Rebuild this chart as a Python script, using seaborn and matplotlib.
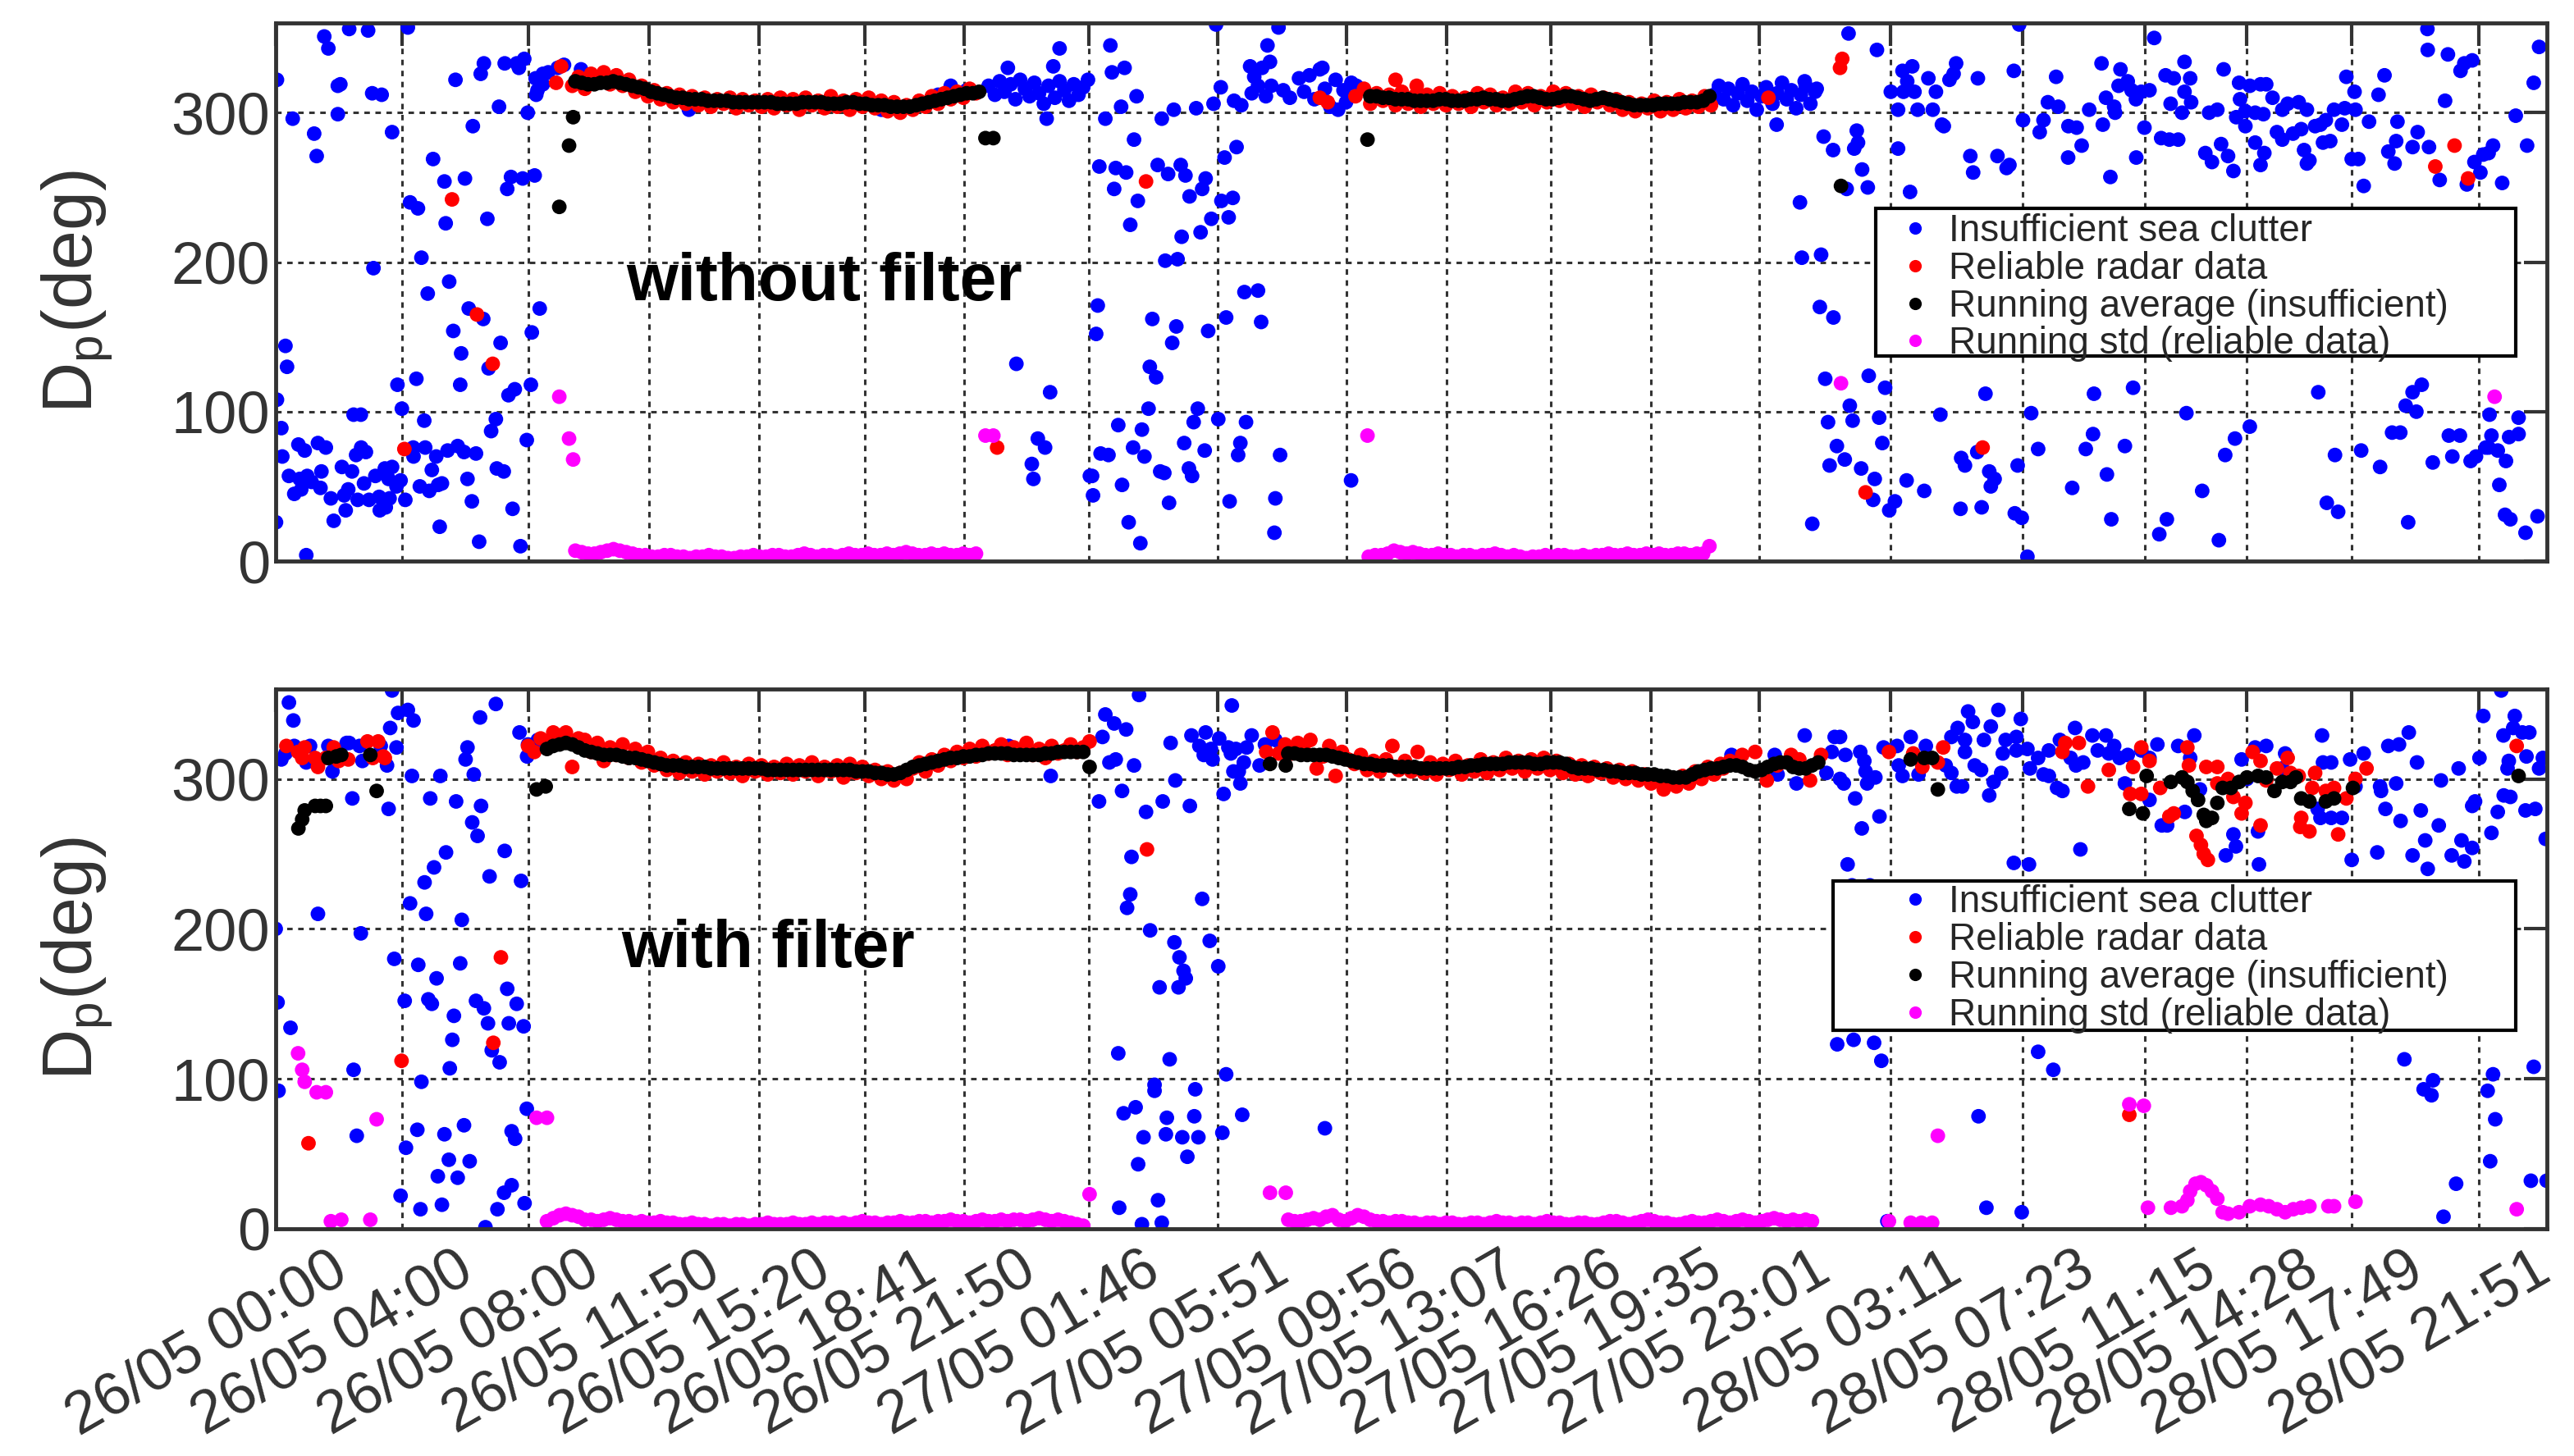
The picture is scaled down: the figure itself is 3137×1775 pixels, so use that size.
import numpy as np
import pandas as pd
import matplotlib
matplotlib.use("Agg")
import matplotlib.pyplot as plt
import matplotlib.transforms as mtransforms
from matplotlib.patches import Rectangle
import seaborn as sns

# x axis: hours since 26/05 00:00, tick labels as printed on the chart
TICK_LABELS = ["26/05 00:00", "26/05 04:00", "26/05 08:00", "26/05 11:50", "26/05 15:20",
               "26/05 18:41", "26/05 21:50", "27/05 01:46", "27/05 05:51", "27/05 09:56",
               "27/05 13:07", "27/05 16:26", "27/05 19:35", "27/05 23:01", "28/05 03:11",
               "28/05 07:23", "28/05 11:15", "28/05 14:28", "28/05 17:49", "28/05 21:51"]
SERIES = ["Insufficient sea clutter", "Reliable radar data",
          "Running average (insufficient)", "Running std (reliable data)"]
COLORS = ["#0000ff", "#ff0000", "#000000", "#ff00ff"]

# ---------------- top panel (without filter) ----------------
TOP_BLUE = [(0.04, 322), (1.54, 351), (1.67, 343), (2.33, 356), (2.93, 355), (4.19, 357), (1.97, 318),
            (2.05, 319), (3.06, 313), (3.36, 312), (0.54, 296), (1.97, 299), (1.22, 286), (1.30, 271),
            (3.69, 287), (5.7, 322), (6.5, 326), (6.6, 333), (7.26, 333), (7.64, 333), (7.71, 330),
            (7.88, 336), (7.08, 304), (6.25, 291), (7.99, 300), (4.99, 269), (5.35, 254), (6.0, 256),
            (4.26, 240), (4.51, 236), (5.39, 226), (6.71, 229), (7.34, 249), (7.46, 257), (7.83, 256),
            (8.21, 258), (4.62, 203), (3.1, 196), (5.5, 187), (4.82, 179), (6.12, 169), (6.58, 162),
            (8.37, 169), (5.63, 154), (8.12, 153), (7.13, 146), (5.88, 139), (0.31, 144), (0.36, 130),
            (6.75, 129), (4.46, 122), (3.86, 118), (5.85, 118), (8.09, 118), (7.38, 111), (7.58, 115),
            (0.04, 108), (2.47, 98), (2.7, 98), (4.0, 102), (4.71, 94), (6.98, 95), (6.83, 87),
            (7.96, 81), (0.18, 89), (0.72, 78), (0.92, 74), (1.34, 79), (1.59, 76), (0.21, 70),
            (2.55, 71), (2.71, 76), (2.86, 73), (2.1, 63), (2.42, 60), (1.45, 60), (0.42, 57),
            (0.76, 55), (1.0, 57), (1.14, 53), (0.59, 45), (0.81, 48), (1.42, 49), (2.3, 48),
            (2.17, 44), (2.8, 52), (3.16, 57), (3.46, 62), (3.69, 63), (3.58, 55), (3.96, 54),
            (3.83, 50), (1.75, 42), (2.6, 41), (2.96, 41), (3.28, 43), (3.61, 42), (1.84, 27),
            (2.22, 34), (3.3, 34), (3.49, 36), (4.11, 41), (4.36, 76), (4.74, 76), (4.37, 70),
            (4.95, 61), (5.09, 70), (4.57, 50), (4.87, 47), (5.15, 51), (5.27, 52), (5.45, 74),
            (5.77, 77), (5.97, 73), (6.35, 72), (6.08, 55), (6.22, 40), (7.01, 62), (7.23, 60),
            (7.51, 35), (5.2, 23), (6.45, 13), (7.76, 10), (0.97, 4), (0.01, 26),
            (8.24, 323), (8.47, 326), (8.64, 327), (8.94, 330), (9.14, 332), (9.68, 329), (8.3, 315),
            (8.47, 319), (8.26, 312), (13.1, 302), (19.2, 302), (21.0, 312), (21.4, 318), (21.9, 315),
            (22.6, 318), (22.8, 312), (22.95, 321), (23.1, 314), (23.3, 319), (23.45, 309), (23.6, 322),
            (23.75, 316), (23.9, 311), (24.05, 320), (24.2, 313), (24.35, 306), (24.5, 318), (24.7, 310),
            (24.85, 321), (25.0, 315), (25.15, 308), (25.3, 319), (25.45, 312), (25.6, 317), (25.75, 322),
            (23.21, 330), (24.85, 343), (24.65, 331), (24.44, 296), (26.46, 345), (26.51, 327),
            (26.91, 330), (27.29, 311), (26.3, 296), (26.8, 304), (28.09, 296), (28.47, 302),
            (29.18, 303), (29.73, 306), (29.96, 317), (29.81, 359), (31.79, 357), (31.44, 345),
            (30.89, 331), (31.02, 324), (31.27, 330), (31.52, 334), (30.94, 313), (31.14, 318),
            (31.39, 311), (31.56, 318), (30.38, 308), (30.61, 305), (31.94, 315), (32.15, 310),
            (32.44, 323), (32.77, 325), (33.1, 329), (33.18, 330), (32.6, 314), (32.93, 309),
            (33.26, 316), (33.6, 322), (33.85, 315), (34.1, 320), (34.26, 318), (33.43, 304),
            (33.68, 302), (33.93, 307), (27.21, 282), (26.11, 264), (26.63, 263), (26.96, 260),
            (26.58, 249), (27.96, 265), (28.29, 259), (28.69, 265), (28.84, 258), (29.48, 256),
            (29.37, 249), (28.97, 244), (27.33, 241), (27.09, 225), (28.72, 217), (29.32, 220),
            (28.2, 201), (28.59, 202), (29.66, 229), (30.21, 230), (29.98, 241), (30.34, 243),
            (30.08, 270), (30.46, 277), (30.71, 180), (31.14, 181), (26.06, 171), (26.01, 152),
            (27.79, 162), (28.55, 157), (28.42, 146), (29.56, 154), (30.13, 163), (31.24, 160),
            (23.48, 132), (24.55, 113), (27.71, 130), (27.91, 123), (27.67, 102), (29.23, 102),
            (26.71, 91), (27.46, 88), (29.1, 93), (29.88, 95), (30.76, 93), (24.16, 82), (24.39, 76),
            (23.97, 65), (24.02, 55), (26.15, 72), (26.4, 71), (27.18, 76), (27.54, 70), (28.8, 79),
            (29.45, 74), (30.58, 79), (30.51, 71), (31.84, 71), (25.88, 57), (25.91, 44), (26.83, 51),
            (28.04, 60), (28.17, 59), (28.95, 62), (29.05, 57), (27.04, 26), (27.41, 12), (28.32, 39),
            (30.24, 40), (31.69, 42), (31.66, 19), (34.09, 54), (25.81, 57),
            (45.6, 312), (45.75, 318), (45.9, 309), (46.05, 316), (46.2, 305), (46.35, 313), (46.5, 319),
            (46.65, 308), (46.8, 314), (46.95, 302), (47.1, 311), (47.25, 317), (47.45, 306), (47.6, 313),
            (47.75, 320), (47.9, 309), (48.05, 315), (48.2, 303), (48.35, 312), (48.5, 318), (48.65, 306),
            (48.8, 314), (55.27, 359), (49.86, 353), (50.76, 342), (48.47, 321), (48.85, 316),
            (47.58, 292), (49.07, 284), (49.37, 275), (50.12, 288), (50.16, 280), (50.04, 276),
            (50.29, 262), (50.47, 250), (49.8, 249), (48.32, 240), (48.38, 203), (48.99, 205),
            (48.95, 170), (49.38, 163), (49.12, 122), (50.5, 124), (51.02, 116), (49.9, 104),
            (49.21, 93), (49.99, 94), (49.49, 77), (49.74, 68), (49.26, 64), (50.26, 62), (50.69, 55),
            (50.64, 41), (50.93, 79), (50.83, 96), (51.15, 34), (51.33, 40), (51.7, 54), (52.26, 47),
            (48.71, 25), (51.57, 328), (51.88, 331), (51.72, 321), (51.95, 314), (51.6, 314),
            (52.05, 302), (51.43, 302), (51.2, 314), (52.39, 323), (52.63, 314), (52.53, 302),
            (52.82, 292), (52.88, 291), (53.06, 322), (53.19, 326), (53.27, 333), (51.43, 276),
            (51.81, 247), (52.77, 98), (53.43, 69), (53.55, 64), (53.41, 35), (54.08, 36), (53.72, 271),
            (53.81, 260), (54.58, 271), (54.87, 263), (54.96, 265), (53.96, 323), (54.2, 112),
            (54.32, 60), (54.37, 50), (54.49, 55), (53.94, 73), (55.1, 328), (55.39, 295), (55.22, 64),
            (55.13, 32), (55.35, 29), (55.53, 3), (55.65, 99), (55.87, 75), (56.18, 307), (56.04, 295),
            (55.92, 287), (56.51, 304), (56.44, 324), (56.83, 291), (57.09, 290), (56.82, 270),
            (57.25, 278), (56.95, 49), (57.49, 302), (57.61, 85), (57.38, 75), (58.05, 58), (57.64, 112),
            (57.88, 333), (57.92, 292), (58.02, 310), (58.28, 304), (58.31, 300), (58.19, 28),
            (58.16, 257), (58.48, 329), (58.42, 318), (58.71, 321), (58.83, 315), (58.97, 309),
            (59.14, 314), (59.4, 315), (58.62, 77), (58.88, 116), (58.98, 270), (59.24, 290),
            (59.55, 350), (59.71, 18), (59.95, 28), (59.77, 283), (60.03, 282), (60.31, 282),
            (59.91, 325), (60.17, 323), (60.51, 334), (60.69, 323), (60.07, 306), (60.51, 314),
            (60.72, 307), (60.43, 300), (60.57, 99), (61.07, 47), (61.17, 273), (61.38, 267),
            (61.67, 279), (61.89, 271), (61.29, 300), (61.55, 302), (61.6, 14), (61.75, 329),
            (62.06, 261), (61.8, 71), (62.11, 82), (62.58, 90), (62.24, 320), (62.27, 309),
            (62.58, 318), (62.92, 319), (63.1, 319), (62.15, 297), (62.44, 301), (62.75, 300),
            (63.01, 299), (62.44, 291), (62.75, 280), (62.92, 265), (63.04, 273), (63.3, 310),
            (63.61, 302), (63.78, 306), (64.13, 307), (64.39, 302), (63.44, 287), (63.61, 282),
            (63.95, 286), (64.21, 289), (64.3, 275), (64.47, 268), (64.65, 291), (64.82, 292),
            (64.99, 295), (64.39, 266), (64.75, 113), (64.9, 280), (65.13, 281), (65.25, 302),
            (65.02, 39), (65.38, 33), (65.28, 71), (65.5, 292), (65.59, 303), (65.64, 324),
            (65.81, 269), (66.02, 269), (65.9, 314), (65.93, 302), (66.11, 74), (66.19, 251),
            (66.36, 294), (66.66, 312), (66.71, 63), (66.85, 325), (66.97, 274), (67.17, 266),
            (67.09, 86), (67.35, 86), (67.22, 281), (67.26, 294), (67.52, 104), (67.86, 100),
            (67.74, 113), (68.03, 118), (67.6, 26), (67.74, 277), (68.26, 277), (67.9, 287),
            (68.21, 356), (68.22, 342), (68.38, 66), (68.89, 84), (69.24, 84), (69.0, 70), (69.58, 67),
            (69.75, 70), (68.6, 255), (68.77, 308), (68.86, 339), (69.26, 328), (69.38, 333),
            (69.63, 335), (69.46, 252), (69.7, 267), (69.89, 260), (69.98, 272), (70.15, 273),
            (70.29, 278), (70.18, 98), (70.24, 84), (70.15, 76), (70.06, 76), (70.44, 74), (70.7, 67),
            (70.49, 51), (70.8, 83), (71.1, 85), (71.1, 96), (70.58, 253), (70.67, 31), (70.84, 28),
            (71.32, 19), (71.7, 30), (71.01, 298), (71.37, 278), (71.58, 320), (71.75, 344)]
TOP_RED = [(5.59, 242), (6.38, 165), (6.88, 132), (4.08, 75), (22.87, 76), (9.05, 331), (8.89, 320),
           (27.59, 254), (33.1, 310), (33.35, 307), (34.23, 311), (35.5, 322), (36.17, 318), (47.32, 310),
           (49.66, 336), (49.59, 330), (50.4, 46), (54.11, 76), (68.46, 264), (69.07, 278), (69.5, 256)]
TOP_BLACK = [(9.43, 297), (9.3, 278), (8.99, 237), (22.5, 283), (22.75, 283), (34.61, 282), (49.62, 251)]
TOP_MAGENTA = [(8.99, 110), (9.3, 82), (9.43, 68), (22.5, 84), (22.75, 84), (34.61, 84), (49.62, 119),
               (70.34, 110)]

# dense running series: (first hour, last hour) and evenly spaced samples between
TOP_RED_A_SPAN = (9.4, 22.2)
TOP_RED_A = [318, 324, 316, 326, 321, 327, 319, 325, 318, 322, 314, 318, 311, 315, 309, 313, 307, 312,
             306, 311, 305, 310, 304, 309, 306, 310, 303, 309, 305, 308, 304, 309, 303, 310, 305, 309,
             302, 310, 305, 308, 303, 311, 304, 308, 302, 309, 304, 310, 303, 308, 301, 307, 300, 305,
             302, 308, 304, 311, 306, 313, 309, 314, 310, 316, 313]
TOP_BLACK_A_SPAN = (9.5, 22.3)
TOP_BLACK_A = [321, 320, 319, 319, 320, 320, 321, 320, 319, 318, 317, 316, 314, 313, 312, 311, 310, 310,
               309, 309, 309, 308, 308, 308, 308, 307, 307, 307, 307, 307, 307, 307, 306, 306, 306, 306,
               307, 307, 307, 307, 306, 306, 306, 307, 307, 306, 306, 305, 305, 305, 304, 304, 304, 304,
               305, 306, 307, 308, 309, 310, 311, 312, 313, 313, 314]
TOP_MAG_A_SPAN = (9.5, 22.2)
TOP_MAG_A = [7, 6, 5, 5, 6, 7, 8, 7, 6, 5, 4, 4, 3, 3, 4, 4, 3, 3, 2, 3, 3, 4, 3, 3, 2, 2, 3, 3, 4, 3,
             3, 4, 4, 3, 3, 4, 5, 4, 3, 4, 4, 3, 4, 5, 4, 4, 5, 4, 4, 5, 4, 5, 6, 5, 4, 4, 5, 4, 5, 4,
             4, 5, 4, 5]
TOP_RED_B_SPAN = (34.5, 45.5)
TOP_RED_B = [316, 306, 313, 308, 312, 305, 314, 306, 311, 304, 312, 306, 313, 305, 311, 306, 310, 304,
             313, 307, 312, 305, 310, 306, 314, 307, 313, 305, 311, 307, 314, 308, 313, 306, 311, 304,
             312, 307, 310, 305, 309, 302, 307, 301, 306, 303, 308, 301, 307, 302, 309, 303, 308, 304,
             311, 305]
TOP_BLACK_B_SPAN = (34.7, 45.45)
TOP_BLACK_B = [311, 311, 310, 310, 309, 309, 309, 308, 308, 308, 308, 309, 309, 308, 308, 308, 309, 309,
               310, 309, 309, 308, 308, 309, 310, 311, 311, 310, 309, 309, 310, 311, 311, 310, 309, 308,
               309, 310, 309, 308, 307, 306, 305, 305, 305, 305, 306, 306, 306, 306, 307, 307, 307, 308, 311]
TOP_MAG_B_SPAN = (34.65, 45.45)
TOP_MAG_B = [3, 4, 4, 5, 7, 6, 5, 6, 5, 4, 4, 5, 4, 4, 3, 4, 4, 3, 4, 4, 5, 4, 3, 4, 3, 2, 3, 3, 4, 3,
             4, 4, 3, 3, 4, 3, 4, 4, 5, 4, 4, 5, 4, 4, 5, 4, 5, 4, 4, 5, 5, 4, 5, 5, 10]

# ---------------- bottom panel (with filter) ----------------
BOT_BLUE = [(0.42, 351), (0.56, 339), (0.18, 313), (0.31, 317), (0.59, 322), (1.09, 322), (0.97, 311),
            (1.67, 322), (1.8, 305), (2.25, 324), (2.33, 324), (2.66, 322), (2.75, 312), (3.69, 359),
            (3.88, 344), (3.63, 334), (3.83, 321), (3.53, 309), (3.33, 322), (4.19, 346), (4.37, 339),
            (4.32, 302), (5.22, 302), (6.48, 341), (6.98, 350), (6.08, 321), (6.02, 313), (6.28, 303),
            (7.73, 331), (8.0, 323), (7.97, 315), (8.31, 326), (2.43, 287), (3.58, 280), (4.9, 287),
            (5.72, 285), (6.51, 282), (6.23, 271), (6.4, 262), (7.26, 252), (5.4, 251), (5.02, 241),
            (4.72, 231), (6.78, 235), (7.78, 232), (4.26, 217), (4.77, 210), (5.9, 206), (1.34, 210),
            (0.0, 200), (2.7, 197), (3.76, 180), (4.52, 176), (5.85, 177), (5.1, 167), (7.34, 160),
            (4.95, 150), (4.84, 153), (4.09, 152), (6.35, 152), (6.6, 147), (7.64, 150), (0.06, 151),
            (5.65, 142), (6.73, 137), (7.39, 137), (7.86, 135), (0.47, 134), (5.6, 126), (6.85, 119),
            (7.1, 111), (2.47, 106), (5.52, 107), (4.62, 98), (0.09, 92), (7.96, 80), (2.57, 62),
            (4.49, 66), (5.35, 63), (5.97, 69), (7.48, 65), (7.59, 60), (4.13, 54), (5.49, 46),
            (6.15, 45), (5.14, 35), (5.77, 34), (7.48, 29), (7.24, 24), (3.96, 22), (4.59, 13),
            (5.27, 16), (7.03, 13), (7.89, 17), (6.65, 1), (24.57, 302), (24.33, 318), (23.24, 322),
            (27.37, 356), (26.3, 343), (26.58, 337), (26.96, 333), (26.21, 328), (26.43, 311),
            (26.63, 313), (27.21, 309), (26.1, 285), (26.83, 292), (27.59, 278), (28.12, 285),
            (28.52, 299), (28.98, 282), (28.37, 324), (29.03, 329), (29.48, 331), (29.28, 322),
            (29.42, 316), (29.65, 320), (29.7, 313), (29.91, 327), (30.31, 349), (30.05, 290),
            (30.2, 321), (30.44, 320), (30.28, 317), (30.94, 329), (30.78, 321), (30.69, 311),
            (30.36, 305), (30.58, 297), (30.53, 305), (31.19, 309), (31.36, 323), (31.69, 326),
            (27.13, 248), (27.09, 223), (26.99, 214), (29.37, 220), (27.72, 199), (28.49, 191),
            (28.65, 181), (28.78, 172), (28.85, 167), (28.02, 161), (28.62, 161), (29.61, 192),
            (29.88, 175), (26.71, 117), (28.34, 113), (30.13, 103), (27.86, 96), (27.86, 92),
            (29.15, 93), (26.88, 77), (27.26, 81), (28.25, 74), (29.12, 75), (30.64, 76), (27.51, 61),
            (28.22, 63), (28.74, 61), (29.25, 61), (30.01, 64), (33.26, 67), (27.34, 43), (28.9, 48),
            (27.97, 19), (26.74, 14), (27.46, 3), (28.09, 4),
            (46.15, 316), (47.52, 316), (47.61, 303), (48.21, 297), (48.47, 329), (49.42, 328),
            (49.59, 328), (49.33, 318), (49.76, 316), (49.16, 304), (49.59, 300), (49.71, 297),
            (50.23, 318), (50.36, 312), (50.4, 305), (50.45, 297), (50.71, 301), (50.07, 287),
            (50.84, 275), (50.28, 267), (49.83, 243), (49.97, 229), (50.54, 229), (49.88, 173),
            (50.14, 159), (50.62, 149), (49.5, 123), (50.02, 126), (50.67, 124), (50.9, 112),
            (50.97, 321), (51.4, 322), (51.83, 328), (52.31, 322), (51.45, 309), (51.57, 302),
            (52.08, 303), (51.09, 5), (52.94, 309), (53.12, 304), (53.29, 295), (53.46, 295),
            (53.12, 328), (53.32, 334), (53.55, 326), (53.55, 318), (53.8, 338), (53.65, 345),
            (53.86, 309), (54.06, 306), (54.32, 289), (54.46, 298), (54.15, 326), (54.37, 335),
            (54.61, 346), (54.75, 317), (54.84, 326), (54.7, 304), (55.18, 328), (55.32, 340),
            (55.18, 319), (55.53, 320), (55.1, 244), (55.58, 243), (53.98, 75), (54.23, 14),
            (55.35, 11), (55.87, 118), (56.35, 106), (55.61, 307), (55.87, 314), (56.21, 319),
            (56.04, 303), (56.21, 302), (56.56, 326), (56.47, 294), (56.64, 292), (57.04, 334),
            (56.9, 314), (57.07, 309), (57.3, 311), (57.21, 253), (57.59, 329), (57.76, 319),
            (58.02, 329), (58.11, 317), (58.28, 322), (58.45, 314), (58.71, 316), (58.62, 297),
            (59.14, 319), (59.4, 314), (59.65, 323), (59.4, 286), (59.79, 269), (59.96, 269),
            (60.31, 322), (60.82, 329), (60.69, 314), (60.52, 278), (61.0, 293), (62.06, 263),
            (62.14, 255), (61.82, 249), (62.32, 313), (62.49, 300), (62.75, 321), (63.1, 322),
            (62.87, 243), (62.84, 265), (63.7, 317), (63.61, 307), (64.73, 280), (64.82, 274),
            (65.16, 274), (65.5, 274), (64.87, 329), (64.9, 311), (65.16, 311), (65.81, 246),
            (65.76, 313), (65.93, 295), (66.19, 317), (66.62, 251), (66.88, 280), (66.71, 295),
            (66.74, 292), (66.97, 322), (67.31, 323), (67.22, 297), (67.36, 272), (67.62, 331),
            (67.88, 311), (67.74, 249), (68.22, 240), (68.0, 279), (68.14, 259), (68.57, 269),
            (68.98, 249), (69.29, 259), (69.38, 245), (68.64, 299), (69.2, 307), (69.63, 282),
            (69.72, 285), (69.63, 254), (69.86, 314), (69.98, 342), (70.24, 264), (70.44, 278),
            (70.55, 359), (70.62, 329), (70.98, 342), (70.93, 334), (70.79, 312), (70.75, 307),
            (70.63, 289), (70.84, 288), (71.32, 279), (71.63, 280), (71.22, 331), (71.44, 331),
            (71.35, 315), (71.75, 307), (71.87, 314), (71.96, 260), (67.48, 113), (68.39, 99),
            (68.09, 93), (68.34, 89), (69.12, 30), (68.72, 8), (70.29, 103), (70.12, 92), (70.36, 73),
            (70.2, 45), (71.58, 108), (71.49, 32), (71.99, 32)]
BOT_RED = [(0.34, 322), (0.71, 318), (0.92, 321), (0.84, 314), (1.25, 314), (1.34, 308), (1.59, 314),
           (1.84, 321), (2.0, 312), (2.3, 313), (2.91, 325), (3.25, 325), (3.08, 314), (3.41, 315),
           (3.46, 314), (7.14, 181), (6.9, 124), (3.99, 112), (1.04, 57), (27.62, 253),
           (45.89, 307), (46.49, 316), (47.27, 299), (48.04, 316), (48.64, 299), (48.99, 316),
           (46.1, 312), (46.9, 318), (47.6, 309), (48.3, 313),
           (51.14, 318), (51.91, 317), (52.2, 308), (52.69, 311), (52.86, 321), (56.73, 324),
           (57.16, 324), (56.64, 318), (57.45, 295), (58.11, 306), (58.88, 308), (59.14, 321),
           (59.4, 312), (58.79, 290), (59.14, 290), (59.74, 294), (60.17, 277), (60.03, 275),
           (60.6, 321), (60.65, 309), (60.89, 262), (61.03, 256), (61.12, 250), (61.25, 246),
           (61.2, 308), (61.55, 308), (61.55, 297), (61.89, 300), (62.06, 288), (62.32, 277),
           (62.44, 284), (62.67, 318), (62.92, 312), (63.1, 299), (63.44, 307), (62.92, 269),
           (63.78, 314), (63.87, 304), (64.13, 302), (64.21, 274), (64.18, 268), (64.47, 265),
           (64.56, 294), (64.65, 304), (64.99, 292), (65.25, 294), (65.38, 263), (65.64, 287),
           (65.93, 300), (66.28, 307), (71.04, 322), (58.76, 76)]
BOT_BLACK = [(1.67, 314), (1.92, 315), (2.08, 316), (3.0, 316), (0.72, 267), (0.84, 273), (0.92, 279),
             (1.25, 282), (1.42, 282), (1.59, 282), (3.2, 292), (8.27, 293), (8.56, 295), (25.8, 308),
             (31.52, 310), (32.02, 309), (51.83, 313), (52.26, 314), (52.51, 314), (52.69, 293),
             (59.31, 302), (58.76, 280), (59.19, 277), (60.08, 298), (60.43, 301), (60.6, 298),
             (60.77, 292), (60.94, 286), (61.12, 276), (61.2, 272), (61.38, 274), (61.55, 284),
             (61.72, 294), (61.98, 294), (62.24, 298), (62.49, 301), (62.84, 302), (63.1, 301),
             (63.36, 292), (63.61, 298), (63.87, 298), (64.04, 301), (64.21, 287), (64.47, 285),
             (64.99, 285), (65.25, 287), (65.85, 294), (71.1, 302)]
BOT_MAGENTA = [(0.71, 117), (0.84, 106), (0.92, 98), (1.3, 91), (1.59, 91), (3.2, 73), (1.75, 5),
               (2.08, 6), (3.0, 6), (8.27, 74), (8.6, 74), (25.8, 23), (31.52, 24), (32.02, 24),
               (51.14, 5), (51.83, 4), (52.17, 4), (52.51, 4), (52.69, 62), (58.76, 83), (59.22, 82),
               (59.35, 14), (60.08, 14), (60.43, 15), (60.6, 19), (60.69, 25), (60.86, 30), (61.03, 31),
               (61.2, 29), (61.38, 25), (61.55, 20), (61.72, 11), (61.89, 10), (62.24, 11), (62.58, 15),
               (62.92, 16), (63.18, 15), (63.44, 13), (63.7, 11), (63.96, 13), (64.21, 14), (64.47, 15),
               (65.07, 15), (65.25, 15), (65.93, 18), (71.04, 13)]

BOT_RED_C_SPAN = (8.0, 25.8)
BOT_RED_C = [322, 318, 327, 325, 331, 329, 331, 308, 327, 326, 318, 324, 312, 321, 316, 323, 314, 320,
             311, 318, 309, 314, 306, 312, 304, 311, 305, 310, 303, 309, 305, 311, 304, 308, 302, 310,
             305, 309, 303, 308, 304, 310, 303, 309, 305, 311, 302, 308, 305, 309, 301, 310, 304, 308,
             302, 306, 300, 305, 299, 304, 300, 307, 311, 305, 313, 309, 316, 312, 318, 314, 320, 315,
             322, 317, 319, 323, 316, 321, 318, 324, 316, 320, 314, 322, 317, 319, 323, 318, 321, 325]
BOT_BLACK_C_SPAN = (8.6, 25.6)
BOT_BLACK_C = [320, 322, 323, 324, 323, 321, 319, 318, 317, 316, 316, 316, 315, 314, 314, 313, 312, 311,
               310, 309, 309, 309, 308, 308, 308, 308, 307, 307, 307, 307, 307, 307, 307, 307, 307, 306,
               306, 306, 306, 306, 306, 306, 306, 306, 306, 306, 306, 306, 306, 305, 305, 305, 304, 304,
               303, 303, 304, 306, 308, 309, 310, 311, 312, 313, 314, 314, 315, 315, 316, 316, 317, 317,
               317, 317, 316, 316, 316, 316, 316, 317, 317, 318, 318, 318, 318, 318]
BOT_MAG_C_SPAN = (8.6, 25.6)
BOT_MAG_C = [5, 7, 9, 10, 9, 8, 6, 6, 5, 6, 7, 6, 5, 5, 4, 5, 4, 4, 5, 4, 4, 3, 3, 4, 3, 3, 2, 3, 3, 2,
             3, 3, 2, 3, 3, 4, 3, 3, 3, 4, 3, 3, 4, 3, 4, 4, 3, 4, 3, 4, 5, 4, 4, 3, 4, 4, 5, 4, 4, 5,
             5, 4, 5, 5, 6, 5, 5, 4, 5, 6, 5, 5, 6, 5, 6, 6, 5, 6, 7, 6, 5, 6, 5, 4, 3, 2]
BOT_RED_D_SPAN = (31.4, 45.8)
BOT_RED_D = [318, 331, 317, 323, 317, 324, 319, 326, 307, 315, 322, 302, 318, 313, 310, 316, 306, 312,
             305, 313, 322, 306, 312, 305, 318, 304, 311, 303, 310, 306, 312, 303, 309, 305, 313, 304,
             311, 306, 314, 307, 312, 305, 313, 307, 314, 306, 312, 304, 310, 303, 309, 302, 308, 304,
             307, 301, 306, 300, 305, 299, 303, 297, 301, 293, 300, 295, 302, 297, 305, 300, 308, 303, 310]
BOT_BLACK_D_SPAN = (32.1, 48.9)
BOT_BLACK_D = [317, 317, 316, 316, 316, 316, 316, 315, 314, 313, 312, 311, 310, 310, 309, 309, 309, 308,
               308, 308, 308, 307, 307, 307, 307, 307, 307, 308, 308, 309, 309, 310, 310, 310, 310, 311,
               311, 311, 311, 310, 310, 311, 311, 311, 310, 308, 307, 307, 307, 306, 306, 305, 305, 304,
               304, 304, 303, 303, 303, 302, 302, 301, 301, 301, 303, 305, 306, 307, 307, 308, 309, 309,
               308, 306, 305, 306, 308, 310, 311, 311, 308, 307, 307, 309, 311]
BOT_MAG_D_SPAN = (32.1, 48.7)
BOT_MAG_D = [6, 5, 5, 6, 7, 6, 8, 9, 6, 5, 7, 9, 8, 6, 5, 5, 4, 5, 5, 4, 4, 3, 4, 4, 3, 4, 4, 3, 3, 4,
             4, 3, 4, 5, 4, 4, 3, 4, 4, 3, 4, 5, 4, 4, 3, 3, 4, 4, 3, 3, 4, 5, 5, 4, 3, 4, 5, 6, 5, 4,
             4, 3, 3, 4, 5, 4, 4, 5, 6, 5, 4, 5, 6, 5, 4, 5, 6, 7, 6, 5, 6, 5, 6, 5]


def label_hours(lbl):
    day, hm = lbl.split(" ")
    hh, mm = hm.split(":")
    return (int(day.split("/")[0]) - 26) * 24 + int(hh) + int(mm) / 60


def points(pairs, series):
    return pd.DataFrame({"hour": [p[0] for p in pairs], "deg": [p[1] for p in pairs], "series": series})


def band(span, vals, series):
    return pd.DataFrame({"hour": np.linspace(span[0], span[1], len(vals)), "deg": vals, "series": series})


top_df = pd.concat([
    points(TOP_BLUE, SERIES[0]),
    band(TOP_RED_A_SPAN, TOP_RED_A, SERIES[1]), band(TOP_RED_B_SPAN, TOP_RED_B, SERIES[1]),
    points(TOP_RED, SERIES[1]),
    band(TOP_BLACK_A_SPAN, TOP_BLACK_A, SERIES[2]), band(TOP_BLACK_B_SPAN, TOP_BLACK_B, SERIES[2]),
    points(TOP_BLACK, SERIES[2]),
    band(TOP_MAG_A_SPAN, TOP_MAG_A, SERIES[3]), band(TOP_MAG_B_SPAN, TOP_MAG_B, SERIES[3]),
    points(TOP_MAGENTA, SERIES[3]),
], ignore_index=True)

bot_df = pd.concat([
    points(BOT_BLUE, SERIES[0]),
    band(BOT_RED_C_SPAN, BOT_RED_C, SERIES[1]), band(BOT_RED_D_SPAN, BOT_RED_D, SERIES[1]),
    points(BOT_RED, SERIES[1]),
    band(BOT_BLACK_C_SPAN, BOT_BLACK_C, SERIES[2]), band(BOT_BLACK_D_SPAN, BOT_BLACK_D, SERIES[2]),
    points(BOT_BLACK, SERIES[2]),
    band(BOT_MAG_C_SPAN, BOT_MAG_C, SERIES[3]), band(BOT_MAG_D_SPAN, BOT_MAG_D, SERIES[3]),
    points(BOT_MAGENTA, SERIES[3]),
], ignore_index=True)

sns.set_style("white")
plt.rcParams["font.family"] = ["Liberation Sans", "DejaVu Sans"]
GRAY = "#333333"

fig = plt.figure(figsize=(31.37, 17.75), dpi=100)
ax_top = fig.add_axes([0.1071, 0.6146, 0.8824, 0.3696])
ax_bot = fig.add_axes([0.1071, 0.1561, 0.8824, 0.3707])

tick_pos = [label_hours(l) for l in TICK_LABELS]
palette = dict(zip(SERIES, COLORS))

# (axes, data, caption, caption x, legend frame (x0, y0, w, h), legend anchor) in axes fractions
panels = [(ax_top, top_df, "without filter", 17.4, (0.7045, 0.3811, 0.2818, 0.2744), (0.7135, 0.6466)),
          (ax_bot, bot_df, "with filter", 15.6, (0.6857, 0.3678, 0.3006, 0.2766), (0.7135, 0.638))]

for ax, df, title, title_x, frame, anchor in panels:
    sns.scatterplot(data=df, x="hour", y="deg", hue="series", hue_order=SERIES, palette=palette,
                    s=165, linewidth=0, ax=ax, legend=True)
    ax.set_xlim(0, 72)
    ax.set_ylim(0, 360)
    ax.set_yticks([0, 100, 200, 300])
    ax.set_xticks(tick_pos)
    ax.set_axisbelow(True)
    ax.grid(True, color=GRAY, linestyle=(0, (2.2, 2.2)), linewidth=2.2)
    ax.tick_params(axis="both", direction="in", length=20, width=3, colors=GRAY,
                   top=True, right=True, labelsize=52, pad=5)
    for sp in ax.spines.values():
        sp.set_color(GRAY)
        sp.set_linewidth(3.5)
    ax.set_xlabel("")
    ax.set_ylabel(r"$\mathregular{D_p}$(deg)", fontsize=62, color=GRAY)
    ax.yaxis.set_label_coords(-0.071, 0.5)
    ax.text(title_x, 186, title, fontsize=58, fontweight="bold",
            ha="center", va="center", color="black")

    # legend box drawn separately so its frame matches the original extent
    ax.add_patch(Rectangle(frame[:2], frame[2], frame[3], transform=ax.transAxes,
                           facecolor="white", edgecolor="black", linewidth=3, zorder=4))
    old = ax.get_legend()
    handles = old.legend_handles
    labels = [t.get_text() for t in old.get_texts()]
    old.remove()
    leg = ax.legend(handles, labels, loc="upper left", bbox_to_anchor=anchor, fontsize=33,
                    frameon=False, borderpad=0, labelspacing=0.04, handlelength=1.0,
                    handletextpad=0.4, markerscale=0.85, borderaxespad=0)
    leg.set_zorder(5)

ax_top.tick_params(axis="x", labelbottom=False)
ax_bot.set_xticklabels(TICK_LABELS)
ax_bot.tick_params(axis="x", pad=12)
# rotated date labels, shifted right so their ends sit just past each tick
offset = mtransforms.ScaledTranslation(0.65, 0, fig.dpi_scale_trans)
for lbl in ax_bot.get_xticklabels():
    lbl.set_rotation(30)
    lbl.set_ha("right")
    lbl.set_va("top")
    lbl.set_rotation_mode("anchor")
    lbl.set_transform(lbl.get_transform() + offset)

fig.savefig("out.png", dpi=100)
